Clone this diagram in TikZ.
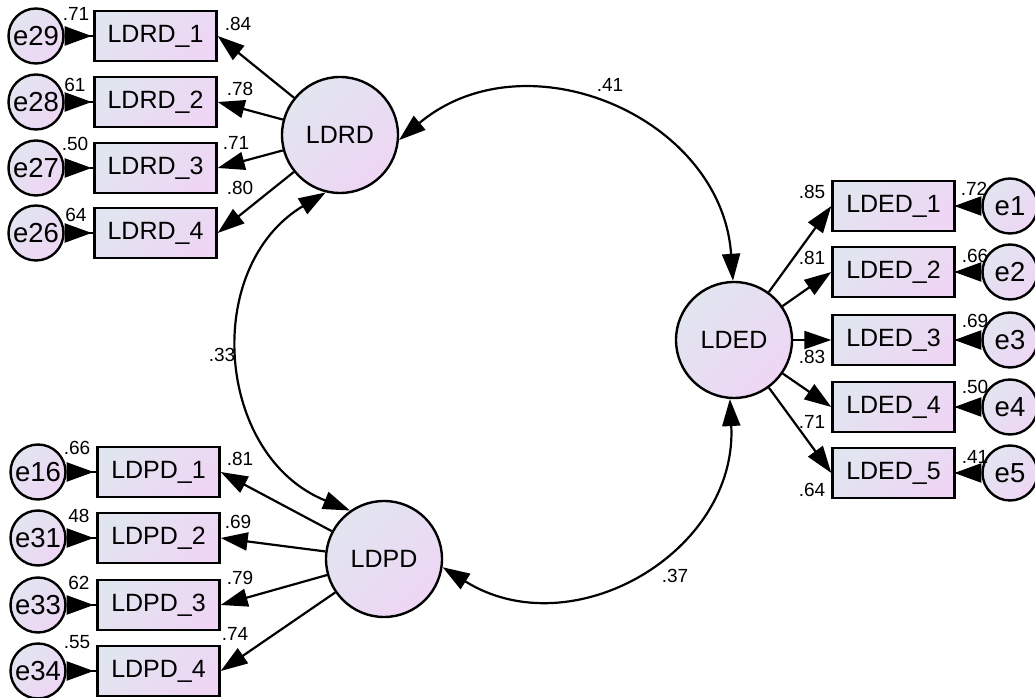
\documentclass[tikz,border=0pt]{standalone}
\usepackage{fontspec}
\setmainfont{Liberation Sans}
\usetikzlibrary{arrows.meta}
\definecolor{fillA}{RGB}{225,229,240}
\definecolor{fillB}{RGB}{238,214,244}
\begin{document}
\begin{tikzpicture}[x=1pt,y=1pt,
  shade fill/.style={top color=fillA, bottom color=fillB, shading angle=45},
  lat/.style={circle, draw, line width=2.4pt, shade fill, minimum size=116pt, inner sep=0pt,
    font=\fontsize{25}{30}\selectfont},
  obs/.style={rectangle, draw, line width=2.4pt, shade fill, minimum width=122pt, minimum height=50pt,
    inner sep=0pt, font=\fontsize{25}{30}\selectfont},
  err/.style={circle, draw, line width=2.4pt, shade fill, minimum size=55pt, inner sep=0pt,
    font=\fontsize{27.5}{30}\selectfont},
  lbl/.style={inner sep=0pt, font=\fontsize{19}{21}\selectfont},
  tip/.tip={Triangle[length=27pt,width=18pt]},
  reg/.style={line width=2.2pt, -tip},
  errarr/.style={line width=2.2pt, {Triangle[reversed,length=27pt,width=19pt]}-},
  cov/.style={line width=2.2pt, tip-tip}]

\useasboundingbox (0,0) rectangle (1035,698);
\fill[white] (0,0) rectangle (1035,698);

% latent factors
\node[lat] (LDRD) at (340,563) {LDRD};
\node[lat] (LDPD) at (384,139) {LDPD};
\node[lat] (LDED) at (734,358) {LDED};

% LDRD indicators and their errors
\node[obs] (RD1) at (155.5,662) {LDRD\_1};
\node[obs] (RD2) at (155.5,596) {LDRD\_2};
\node[obs] (RD3) at (155.5,530) {LDRD\_3};
\node[obs] (RD4) at (155.5,465) {LDRD\_4};
\node[err] (e29) at (36,662) {e29};
\node[err] (e28) at (36,596) {e28};
\node[err] (e27) at (36,530) {e27};
\node[err] (e26) at (36,465) {e26};

% LDPD indicators and their errors
\node[obs] (PD1) at (158.5,226) {LDPD\_1};
\node[obs] (PD2) at (158.5,160) {LDPD\_2};
\node[obs] (PD3) at (158.5,93) {LDPD\_3};
\node[obs] (PD4) at (158.5,27) {LDPD\_4};
\node[err] (e16) at (38,226) {e16};
\node[err] (e31) at (38,160) {e31};
\node[err] (e33) at (38,93) {e33};
\node[err] (e34) at (38,27) {e34};

% LDED indicators and their errors
\node[obs] (ED1) at (893.5,492) {LDED\_1};
\node[obs] (ED2) at (893.5,426) {LDED\_2};
\node[obs] (ED3) at (893.5,358) {LDED\_3};
\node[obs] (ED4) at (893.5,291) {LDED\_4};
\node[obs] (ED5) at (893.5,225) {LDED\_5};
\node[err] (e1) at (1010,492) {e1};
\node[err] (e2) at (1010,426) {e2};
\node[err] (e3) at (1010,358) {e3};
\node[err] (e4) at (1010,291) {e4};
\node[err] (e5) at (1010,225) {e5};

% loadings
\foreach \i in {1,...,4} {
  \draw[reg] (LDRD) -- (RD\i.east);
  \draw[reg] (LDPD) -- (PD\i.east);
}
\foreach \i in {1,...,5} {
  \draw[reg] (LDED) -- (ED\i.west);
}

% error terms
\draw[errarr] (e29) -- (RD1.west);
\draw[errarr] (e28) -- (RD2.west);
\draw[errarr] (e27) -- (RD3.west);
\draw[errarr] (e26) -- (RD4.west);
\draw[errarr] (e16) -- (PD1.west);
\draw[errarr] (e31) -- (PD2.west);
\draw[errarr] (e33) -- (PD3.west);
\draw[errarr] (e34) -- (PD4.west);
\foreach \i in {1,...,5} {
  \draw[errarr] (e\i) -- (ED\i.east);
}

% covariances
\draw[cov] (LDRD.-5) to[out=40,in=94,distance=165pt] (LDED.91);
\draw[cov] (LDRD.256) to[out=211,in=158,distance=145pt] (LDPD.125);
\draw[cov] (LDPD.-8) to[out=-32,in=-87,distance=153pt] (LDED.266);

% estimates
\node[lbl] (c41) at (610,613) {.41};
\node[lbl] (c33) at (222,343) {.33};
\node[lbl] (c37) at (675,122) {.37};

\node[lbl] (r1) at (76,684) {.71};
\node[lbl] (r2) at (75,613) {61};
\node[lbl] (r3) at (75,554) {.50};
\node[lbl] (r4) at (76,483) {64};
\node[lbl] (k1) at (238,674) {.84};
\node[lbl] (k2) at (240,609) {.78};
\node[lbl] (k3) at (236,555) {.71};
\node[lbl] (k4) at (240,510) {.80};

\node[lbl] (p1) at (77,250) {.66};
\node[lbl] (p2) at (79,182) {48};
\node[lbl] (p3) at (79,115) {62};
\node[lbl] (p4) at (77,56) {.55};
\node[lbl] (q1) at (240,239) {.81};
\node[lbl] (q2) at (238,176) {.69};
\node[lbl] (q3) at (240,120) {.79};
\node[lbl] (q4) at (235,64) {.74};

\node[lbl] (m1) at (812,506) {.85};
\node[lbl] (m2) at (812,440) {.81};
\node[lbl] (m3) at (812,341) {.83};
\node[lbl] (m4) at (812,276) {.71};
\node[lbl] (m5) at (812,208) {.64};
\node[lbl] (s1) at (974,509) {.72};
\node[lbl] (s2) at (975,442) {.66};
\node[lbl] (s3) at (975,377) {.69};
\node[lbl] (s4) at (975,311) {.50};
\node[lbl] (s5) at (975,241) {.41};
\end{tikzpicture}
\end{document}
